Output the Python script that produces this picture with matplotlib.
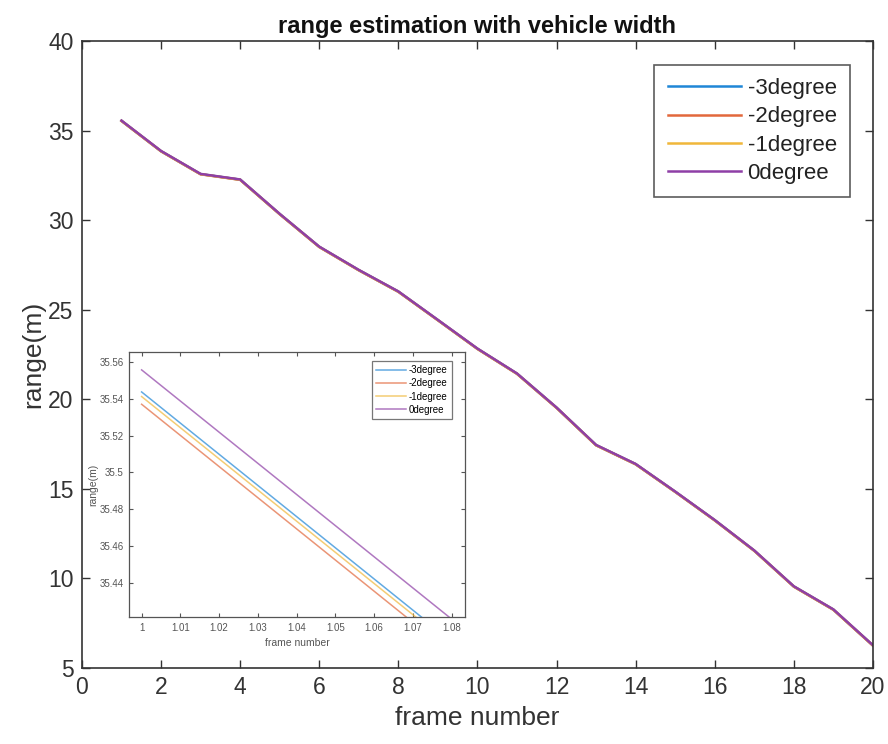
import matplotlib
matplotlib.use("Agg")
import matplotlib.pyplot as plt
from matplotlib import font_manager

# Helvetica-like face
names = {f.name for f in font_manager.fontManager.ttflist}
FAM = ["Liberation Sans Narrow"] if "Liberation Sans Narrow" in names else ["Liberation Sans"]
plt.rcParams["font.family"] = FAM + ["DejaVu Sans"]

frames = list(range(1, 21))
labels = ["-3degree", "-2degree", "-1degree", "0degree"]
colors = ["#1f86d6", "#e2683c", "#f0b73a", "#8e3fa6"]

range_m3 = [35.5437, 33.848, 32.57, 32.26, 30.34, 28.51, 27.21, 26.01, 24.42, 22.82,
            21.43, 19.53, 17.44, 16.38, 14.84, 13.25, 11.55, 9.55, 8.26, 6.26]
range_m2 = [35.5370, 33.842, 32.56, 32.25, 30.33, 28.50, 27.20, 26.00, 24.41, 22.81,
            21.42, 19.52, 17.43, 16.37, 14.83, 13.24, 11.54, 9.54, 8.25, 6.25]
range_m1 = [35.5412, 33.846, 32.565, 32.255, 30.335, 28.505, 27.205, 26.005, 24.415, 22.815,
            21.425, 19.525, 17.435, 16.375, 14.835, 13.245, 11.545, 9.545, 8.255, 6.255]
range_0 = [35.5557, 33.861, 32.58, 32.27, 30.35, 28.52, 27.22, 26.02, 24.43, 22.83,
           21.44, 19.54, 17.45, 16.39, 14.85, 13.26, 11.56, 9.56, 8.27, 6.27]
series = [range_m3, range_m2, range_m1, range_0]

fig = plt.figure(figsize=(8.88, 7.44), dpi=100)
ax = fig.add_axes([0.0923, 0.1022, 0.8907, 0.8427])
for ys, c, lab in zip(series, colors, labels):
    ax.plot(frames, ys, color=c, lw=1.8, label=lab)
ax.set_xlim(0, 20)
ax.set_ylim(5, 40)
ax.set_xticks(range(0, 21, 2))
ax.set_yticks(range(5, 41, 5))
ax.tick_params(direction="in", length=6, width=1, labelsize=16.5, colors="#333333",
               top=True, right=True, pad=6)
for s in ax.spines.values():
    s.set_color("#333333")
    s.set_linewidth(1.2)
ax.set_xlabel("frame number", fontsize=19, color="#333333", labelpad=5)
ax.set_ylabel("range(m)", fontsize=19, color="#333333", labelpad=2)
ax.set_title("range estimation with vehicle width", fontsize=17, fontweight="bold",
             color="#111111", pad=6)
leg = ax.legend(loc="upper right", bbox_to_anchor=(0.971, 0.962), borderaxespad=0,
                fontsize=16, frameon=True, fancybox=False, handlelength=3.3,
                labelspacing=0.33, borderpad=0.6, handletextpad=0.3)
leg.get_frame().set_edgecolor("#333333")
leg.get_frame().set_linewidth(1.2)
for t in leg.get_texts():
    t.set_color("#222222")

# zoomed view of the first frame step
axi = fig.add_axes([0.1456, 0.1703, 0.378, 0.357])
for ys, c, lab in zip(series, colors, labels):
    axi.plot(frames, ys, color=c, lw=1.1, alpha=0.7, label=lab)
axi.set_xlim(0.99682, 1.08344)
axi.set_ylim(35.4211, 35.5656)
axi.set_xticks([1, 1.01, 1.02, 1.03, 1.04, 1.05, 1.06, 1.07, 1.08])
axi.set_xticklabels(["1", "1.01", "1.02", "1.03", "1.04", "1.05", "1.06", "1.07", "1.08"])
axi.set_yticks([35.44, 35.46, 35.48, 35.5, 35.52, 35.54, 35.56])
axi.set_yticklabels(["35.44", "35.46", "35.48", "35.5", "35.52", "35.54", "35.56"])
axi.tick_params(direction="in", length=3, width=0.8, labelsize=7, colors="#555555",
                top=True, right=True, pad=4)
for s in axi.spines.values():
    s.set_color("#555555")
    s.set_linewidth(0.9)
axi.set_xlabel("frame number", fontsize=7.5, color="#555555", labelpad=4)
axi.set_ylabel("range(m)", fontsize=7.5, color="#555555", labelpad=1)
li = axi.legend(loc="upper right", bbox_to_anchor=(0.961, 0.965), borderaxespad=0,
                fontsize=7, frameon=True, fancybox=False, handlelength=3.1,
                labelspacing=0.32, borderpad=0.45, handletextpad=0.25)
li.get_frame().set_edgecolor("#555555")
li.get_frame().set_linewidth(0.9)

fig.savefig("out.png", dpi=100)
